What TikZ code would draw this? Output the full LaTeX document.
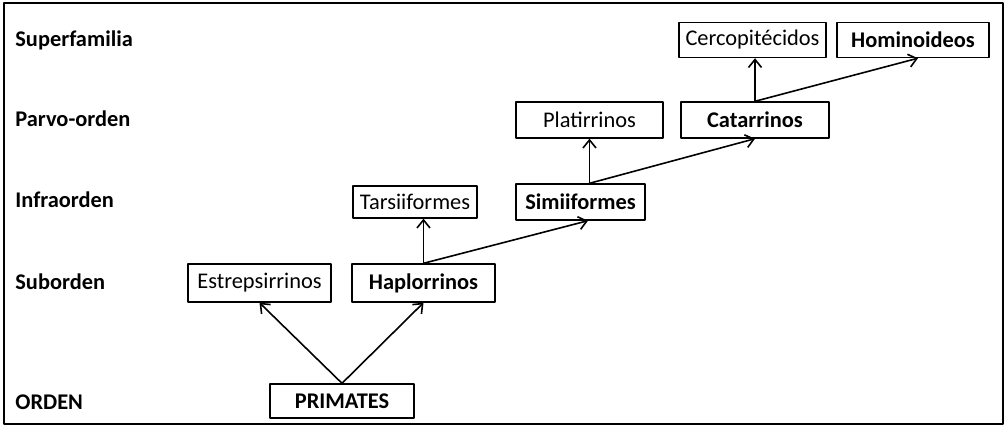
\documentclass[tikz,border=0pt]{standalone}
\usepackage{fontspec}
\setmainfont{Carlito}
\usetikzlibrary{arrows.meta,positioning}
\begin{document}
\begin{tikzpicture}[x=.5pt,y=-.5pt,line join=round,line cap=round]
	\tikzset{
		taxon/.style={draw,line width=.7pt,minimum height=18pt,inner sep=0pt,font=\fontsize{11.2}{13}\selectfont},
		taxonb/.style={taxon,font=\fontsize{11.2}{13}\selectfont\bfseries},
		rango/.style={anchor=west,inner sep=0pt,font=\fontsize{11.2}{13}\selectfont\bfseries},
		flecha/.style={line width=.8pt,-{Straight Barb[length=4pt,width=6.5pt]}}
	}
	\useasboundingbox (0,0) rectangle (1006,428);
	\draw[line width=.6pt] (4,3) rectangle (1003,424);
	
	% rangos
	\foreach \n/\t/\y in {sf/Superfamilia/40,po/Parvo-orden/119,io/Infraorden/200,so/Suborden/282,or/ORDEN/402}{
		\node[rango] (\n) at (15,\y) {\t};
	}
	
	% taxones
	\node[taxonb,minimum width=72pt,minimum height=17pt] (prim) at (342,401) {PRIMATES};
	\node[taxon,minimum width=71.5pt,minimum height=19pt] (estr) at (259.5,283) {Estrepsirrinos};
	\node[taxonb,minimum width=71.5pt,minimum height=19pt] (hapl) at (423.5,283) {Haplorrinos};
	\node[taxon,minimum width=62pt,minimum height=16pt] (tars) at (415,202) {Tarsiiformes};
	\node[taxonb,minimum width=64.5pt] (simi) at (580.5,202) {Simiiformes};
	\node[taxon,minimum width=73.5pt] (plat) at (589.5,120) {Platirrinos};
	\node[taxonb,minimum width=74pt] (cata) at (755,120) {Catarrinos};
	\node[taxon,minimum width=73.5pt,minimum height=17.5pt] (cerc) at (752.5,40) {Cercopitécidos};
	\node[taxonb,minimum width=76pt,minimum height=17.5pt] (homi) at (913,40) {Hominoideos};
	
	% flechas
	\draw[flecha] (prim.north) -- (estr.south);
	\draw[flecha] (prim.north) -- (hapl.south);
	\draw[flecha] (hapl.north) -- (hapl.north |- tars.south);
	\draw[flecha] (hapl.north) -- ([xshift=3.75pt]simi.south);
	\draw[flecha] (plat.south |- simi.north) -- (plat.south);
	\draw[flecha] (plat.south |- simi.north) -- (cata.south);
	\draw[flecha] (cata.north) -- (cata.north |- cerc.south);
	\draw[flecha] (cata.north) -- ([xshift=2.5pt]homi.south);
\end{tikzpicture}
\end{document}
